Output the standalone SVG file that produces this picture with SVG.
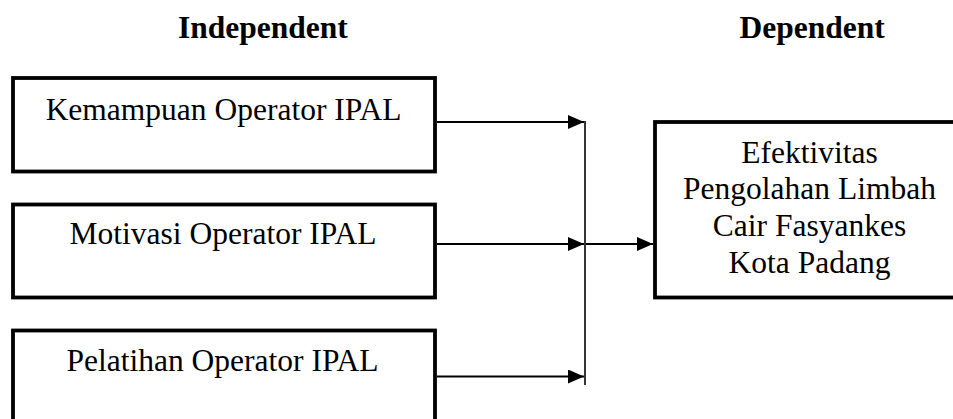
<svg xmlns="http://www.w3.org/2000/svg" width="953" height="419" viewBox="0 0 953 419">
  <style>
    .box { fill: #ffffff; stroke: #000000; stroke-width: 3.8; }
    .lbl { font-family: "Liberation Serif", "Times New Roman", serif; font-size: 31.5px; fill: #000000; text-anchor: middle; }
    .head { font-family: "Liberation Serif", "Times New Roman", serif; font-size: 31.5px; font-weight: bold; fill: #000000; }
    .conn { stroke: #000000; stroke-width: 2; fill: none; }
    .bar { stroke: #000000; stroke-width: 1.6; fill: none; }
  </style>
  <defs>
    <marker id="arrow" markerUnits="userSpaceOnUse" markerWidth="16" markerHeight="14" refX="16" refY="7" orient="auto">
      <path d="M0,0 L16,7 L0,14 z" fill="#000000"/>
    </marker>
  </defs>
  <rect width="953" height="419" fill="#ffffff"/>

  <text class="head" x="178" y="37.5" font-family="Liberation Serif, serif">Independent</text>
  <text class="head" x="739.5" y="37.5" font-family="Liberation Serif, serif">Dependent</text>

  <g id="node-kemampuan" font-family="Liberation Serif, serif">
    <rect class="box" x="13" y="78" width="422" height="93.5"/>
    <text class="lbl" x="223.5" y="120" font-family="Liberation Serif, serif">Kemampuan Operator IPAL</text>
  </g>
  <g id="node-motivasi" font-family="Liberation Serif, serif">
    <rect class="box" x="13" y="204.5" width="422" height="93"/>
    <text class="lbl" x="223" y="243.5" font-family="Liberation Serif, serif">Motivasi Operator IPAL</text>
  </g>
  <g id="node-pelatihan" font-family="Liberation Serif, serif">
    <rect class="box" x="13" y="330.5" width="422" height="93"/>
    <text class="lbl" x="222.5" y="371" font-family="Liberation Serif, serif">Pelatihan Operator IPAL</text>
  </g>
  <g id="node-efektivitas" font-family="Liberation Serif, serif">
    <rect class="box" x="655" y="122" width="308" height="175.5"/>
    <text class="lbl" x="809.5" y="162.5" font-family="Liberation Serif, serif">Efektivitas</text>
    <text class="lbl" x="809.5" y="199" font-family="Liberation Serif, serif">Pengolahan Limbah</text>
    <text class="lbl" x="809.5" y="236" font-family="Liberation Serif, serif">Cair Fasyankes</text>
    <text class="lbl" x="809.5" y="273" font-family="Liberation Serif, serif">Kota Padang</text>
  </g>

  <g id="connectors">
    <line class="conn" x1="437" y1="122" x2="584" y2="122" marker-end="url(#arrow)"/>
    <line class="conn" x1="437" y1="244" x2="584" y2="244" marker-end="url(#arrow)"/>
    <line class="conn" x1="437" y1="376.5" x2="584" y2="376.5" marker-end="url(#arrow)"/>
    <line class="bar" x1="585" y1="121" x2="585" y2="385"/>
    <line class="conn" x1="586" y1="244" x2="653" y2="244" marker-end="url(#arrow)"/>
  </g>
</svg>
